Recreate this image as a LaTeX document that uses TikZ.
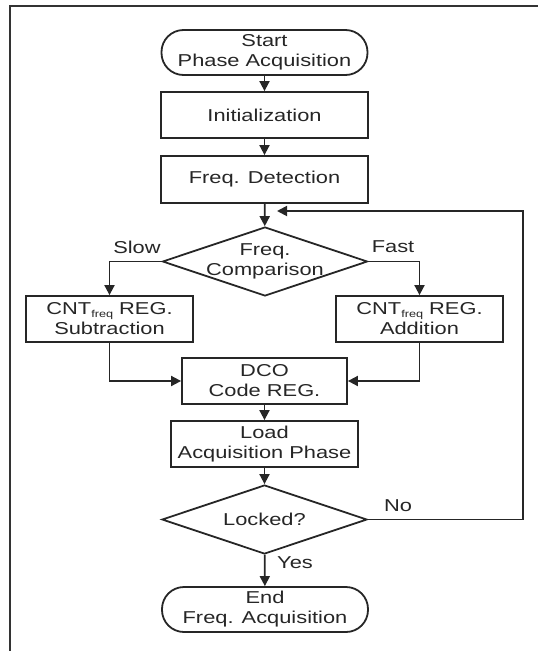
\documentclass[tikz,border=0pt]{standalone}
\usepackage{fontspec}
\setmainfont{Liberation Sans}[FakeStretch=1.27]
\usetikzlibrary{shapes.geometric,arrows.meta}
\newcommand{\subfreq}{\raisebox{-2.5pt}{\fontsize{10}{10}\selectfont freq}}
\begin{document}
\begin{tikzpicture}[x=1pt,y=-1pt,
  every node/.style={font=\fontsize{17.2}{20}\selectfont, text=black!85},
  ln/.style={line width=1.8pt, draw=black!85},
  arr/.style={ln, -{Triangle[length=10pt,width=10pt]}},
  boxnode/.style={ln, rectangle, inner sep=0pt, align=center, fill=white},
  term/.style={ln, rectangle, rounded corners=22pt, inner sep=0pt, align=center, minimum width=206pt, minimum height=45pt},
  decide/.style={ln, diamond, inner sep=0pt, minimum width=205pt, minimum height=69pt},
  lbl/.style={inner sep=0pt}
]
\useasboundingbox (0,0) rectangle (538,651);
\draw[line width=1.8pt, draw=black!80] (10,651) -- (10,6) -- (538,6);

\node[term] (start) at (264.5,52.5) {Start\\Phase Acquisition};
\node[boxnode, minimum width=207pt, minimum height=46pt] (init) at (264.5,115) {Initialization};
\node[boxnode, minimum width=207pt, minimum height=47pt] (det) at (264.5,179.5) {Freq. Detection};
\node[decide, label={[align=center, font=\fontsize{17.2}{20}\selectfont, text=black!85]center:Freq.\\Comparison}] (comp) at (265,261.5) {};
\node[lbl] (slow) at (137,247) {Slow};
\node[lbl] (fast) at (393,247) {Fast};
\node[boxnode, minimum width=167pt, minimum height=46pt] (cntl) at (109.5,319) {CNT\subfreq{} REG.\\Subtraction};
\node[boxnode, minimum width=167pt, minimum height=46pt] (cntr) at (419.5,319) {CNT\subfreq{} REG.\\Addition};
\node[boxnode, minimum width=165pt, minimum height=46pt] (dco) at (264.5,381) {DCO\\Code REG.};
\node[boxnode, minimum width=187pt, minimum height=46pt] (load) at (264.5,444) {Load\\Acquisition Phase};
\node[decide, label={[font=\fontsize{17.2}{20}\selectfont, text=black!85]center:Locked?}] (lock) at (264.5,519.5) {};
\node[lbl] (no) at (398,506) {No};
\node[lbl] (yes) at (295,563) {Yes};
\node[term] (end) at (265,609.5) {End\\Freq. Acquisition};

\coordinate (fbin) at (277,211);
\coordinate (fbcorner) at (523,211);

\draw[arr] (start) -- (init);
\draw[arr] (init) -- (det);
\draw[arr] (det) -- (comp);
\draw[arr] (comp.west) -| (cntl.north);
\draw[arr] (comp.east) -| (cntr.north);
\draw[arr] (cntl.south) |- (dco.west);
\draw[arr] (cntr.south) |- (dco.east);
\draw[arr] (dco) -- (load);
\draw[arr] (load) -- (lock);
\draw[arr] (lock) -- (end);
\draw[arr] (lock.east) -| (fbcorner) -- (fbin);
\end{tikzpicture}
\end{document}
